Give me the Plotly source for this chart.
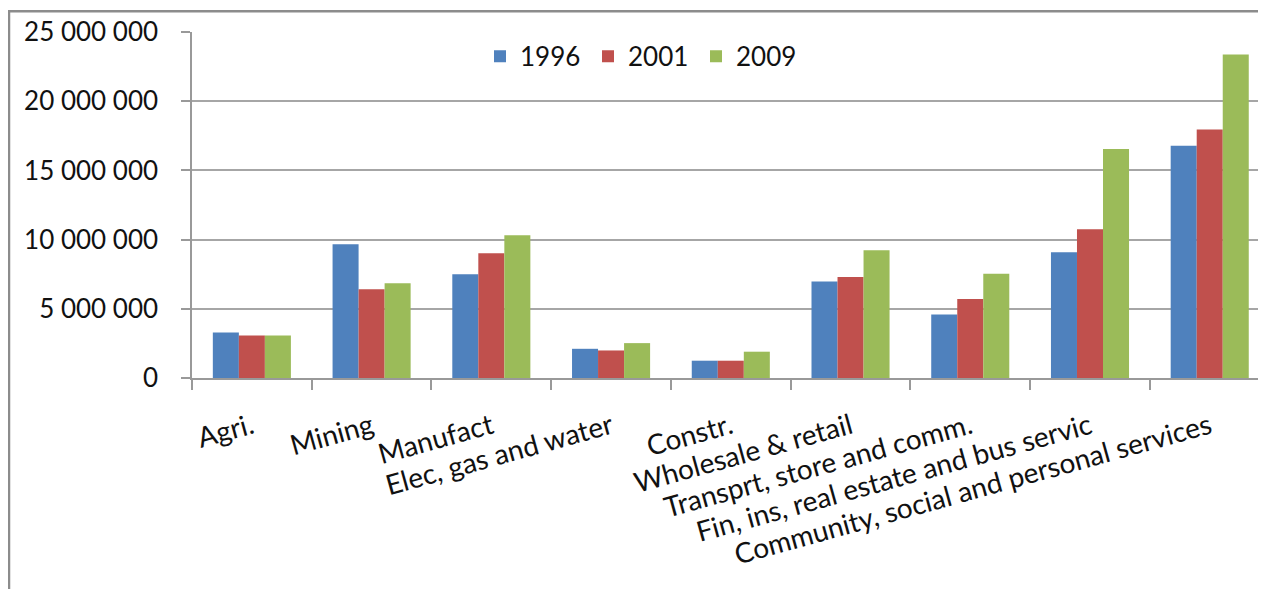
import plotly.graph_objects as go

categories = ["Agri.", "Mining", "Manufact", "Elec, gas and water", "Constr.",
              "Wholesale & retail", "Transprt, store and comm.",
              "Fin, ins, real estate and bus servic",
              "Community, social and personal services"]
years = ["1996", "2001", "2009"]
v1996 = [3290000, 9670000, 7500000, 2110000, 1250000, 6970000, 4590000, 9090000, 16780000]
v2001 = [3070000, 6420000, 9020000, 1990000, 1250000, 7290000, 5700000, 10750000, 17960000]
v2009 = [3070000, 6850000, 10320000, 2520000, 1900000, 9230000, 7530000, 16540000, 23380000]
colors = ["#4F81BD", "#C0504D", "#9BBB59"]

FONT = "Lato"
OFF = 8  # browser body margin
W, H = 1266 - OFF, 597 - 2 * OFF
# plot area in page pixels
PL, PT, PB = 192, 31.7, 378.3
L, R, T, B = PL - OFF, 0, PT - OFF, H - (PB - OFF)

fig = go.Figure()
for name, vals, c in zip(years, [v1996, v2001, v2009], colors):
    fig.add_trace(go.Bar(x=categories, y=vals, name=name, marker_color=c,
                         marker_line_width=0))

pw = W - L - R
ph = H - T - B
def px2x(p):  # page x -> paper
    return (p - OFF - L) / pw
def py2y(p):  # page y -> paper
    return (H - B - (p - OFF)) / ph

TXT = "#111111"
fig.update_layout(
    width=W, height=H,
    margin=dict(l=L, r=R, t=T, b=B, pad=0),
    paper_bgcolor="white", plot_bgcolor="white",
    separators=", ",
    barmode="group", bargap=0.348, bargroupgap=0,
    font=dict(family=FONT, size=26, color=TXT),
    showlegend=True,
    legend=dict(orientation="h", x=px2x(480), y=py2y(56), xanchor="left", yanchor="middle",
                font=dict(family=FONT, size=26, color=TXT),
                entrywidth=63, entrywidthmode="pixels", traceorder="normal",
                bgcolor="rgba(0,0,0,0)"),
    xaxis=dict(type="category", range=[-0.5, 8.47], tickson="boundaries",
               ticks="outside", ticklen=10, tickcolor="#999999", tickwidth=1.5,
               showline=True, linecolor="#999999", linewidth=1.5,
               tickangle=-15.5, ticklabelstandoff=20,
               tickfont=dict(family=FONT, size=28, color=TXT),
               showgrid=False, zeroline=False),
    yaxis=dict(range=[0, 25000000], tickvals=[0, 5000000, 10000000, 15000000, 20000000, 25000000],
               tickformat=",d", ticks="outside", ticklen=9, tickcolor="#999999", tickwidth=1.5,
               showline=True, linecolor="#999999", linewidth=1.5,
               showgrid=True, gridcolor="#a6a6a6", gridwidth=1.5, zeroline=False,
               ticklabelstandoff=18,
               tickfont=dict(family=FONT, size=26, color=TXT)),
)

# outer chart frame (left and top edges visible)
frame = dict(color="#8c8c8c", width=2.5)
fig.add_shape(type="line", xref="paper", yref="paper",
              x0=px2x(8), x1=px2x(1300), y0=py2y(11), y1=py2y(11), line=frame, layer="above")
fig.add_shape(type="line", xref="paper", yref="paper",
              x0=px2x(9), x1=px2x(9), y0=py2y(10), y1=py2y(700), line=frame, layer="above")

fig.write_html("out.html", config={"displayModeBar": False})
